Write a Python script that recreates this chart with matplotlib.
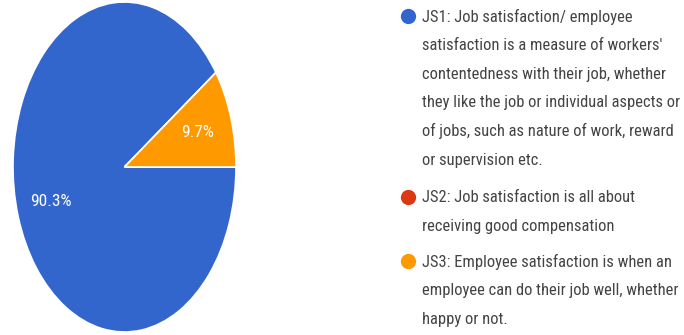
import matplotlib.pyplot as plt

# response shares for the three statements
labels = ['JS1', 'JS2', 'JS3']
shares = [90.3, 0.0, 9.7]
colors = ['#3366cc', '#dc3912', '#ff9900']

# legend text, already wrapped
legend_lines = [
    ["JS1: Job satisfaction/ employee",
     "satisfaction is a measure of workers'",
     "contentedness with their job, whether",
     "they like the job or individual aspects or",
     "of jobs, such as nature of work, reward",
     "or supervision etc."],
    ["JS2: Job satisfaction is all about",
     "receiving good compensation"],
    ["JS3: Employee satisfaction is when an",
     "employee can do their job well, whether",
     "happy or not."],
]

FONT = ['Roboto Condensed', 'Liberation Sans', 'DejaVu Sans']
W, H = 684, 335

fig = plt.figure(figsize=(W / 100, H / 100), dpi=100)

ax = fig.add_axes([13 / W, 3 / H, 223 / W, 330 / H])


def pct_fmt(p):
    return '%.1f%%' % p if p > 0 else ''


wedges, texts, autotexts = ax.pie(
    shares, colors=colors, startangle=0, counterclock=False,
    autopct=pct_fmt, pctdistance=0.69,
    wedgeprops=dict(edgecolor='white', linewidth=1.2),
    textprops=dict(color='white', fontsize=12.5, family=FONT),
)
ax.set_aspect('auto')
ax.set_xlim(-1, 1)
ax.set_ylim(-1, 1)

# legend drawn in pixel coordinates
lax = fig.add_axes([0, 0, 1, 1])
lax.set_xlim(0, W)
lax.set_ylim(H, 0)
lax.axis('off')

first_line_y = [17, 198, 262]
line_step = 28.6
for color, lines, y0 in zip(colors, legend_lines, first_line_y):
    lax.plot(407.5, y0 - 1, 'o', color=color, markersize=11, markeredgewidth=0)
    for i, line in enumerate(lines):
        lax.text(422, y0 + i * line_step, line, fontsize=11.9, family=FONT,
                 color='#444444', va='center', ha='left')

fig.savefig('out.png', dpi=100)
